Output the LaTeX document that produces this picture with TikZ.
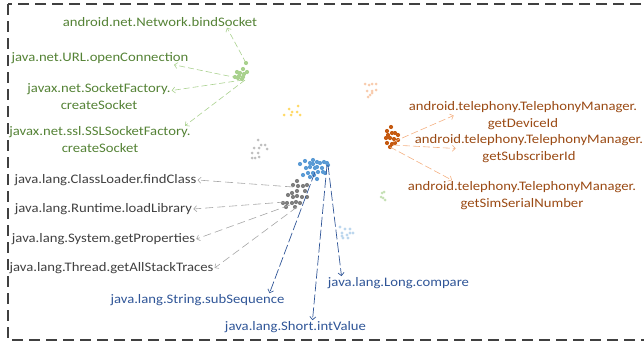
\documentclass[tikz,border=0pt]{standalone}
\usepackage{fontspec}
\setmainfont{Carlito}[FakeStretch=1.13]
\usetikzlibrary{arrows.meta}

\definecolor{grtext}{HTML}{548235}
\definecolor{grdot}{HTML}{A9D18E}
\definecolor{grline}{HTML}{A9D18E}
\definecolor{grlight}{HTML}{C5E0B4}
\definecolor{gytext}{HTML}{404040}
\definecolor{gydot}{HTML}{7F7F7F}
\definecolor{gyline}{HTML}{A6A6A6}
\definecolor{gylight}{HTML}{BFBFBF}
\definecolor{bltext}{HTML}{2F5597}
\definecolor{bldot}{HTML}{5B9BD5}
\definecolor{blline}{HTML}{2F5597}
\definecolor{bllight}{HTML}{BDD7EE}
\definecolor{ortext}{HTML}{9A4A14}
\definecolor{ordot}{HTML}{C55A11}
\definecolor{orline}{HTML}{F4B183}
\definecolor{orlight}{HTML}{F8CBAD}
\definecolor{yedot}{HTML}{FFD966}
\definecolor{frame}{HTML}{404040}

\tikzset{
  lbl/.style={inner sep=1pt, align=center, font=\fontsize{13}{17}\selectfont},
  conn/.style={-{Straight Barb[length=3pt,width=6pt]}, line width=0.6pt},
  grconn/.style={conn, draw=grline, dash pattern=on 6pt off 3pt},
  gyconn/.style={conn, draw=gyline, dash pattern=on 8pt off 4pt},
  blconn/.style={conn, draw=blline, line width=0.7pt, dash pattern=on 10pt off 3pt},
  orconn/.style={conn, draw=orline, dash pattern=on 7pt off 3pt},
}
% a cluster of dots: colour, radius, list of points
\newcommand{\dotcluster}[3]{%
  \foreach \p in {#3} {\fill[#1] \p circle (#2);}}

\begin{document}
\begin{tikzpicture}[x=1pt, y=-1pt]
\useasboundingbox (0,0) rectangle (644,343);

% dashed frame, open to the right
\begin{scope}
  \clip (0,0) rectangle (644,343);
  \draw[frame, line width=1.3pt, dash pattern=on 11pt off 6pt] (8,4) rectangle (660,340);
\end{scope}

% ---- point clusters ----
\dotcluster{grdot}{2.1pt}{(246,63),(243,69),(247,72),(237,72),(240,73),(235,77),(238,78),(243,77),(242,79),(244,74),(239,76)}
\dotcluster{yedot}{1.5pt}{(298,106),(289,109),(292,112),(297,112),(284,115),(291,115),(300,115)}
\dotcluster{gylight}{1.5pt}{(258,140),(261,145),(265,145),(254,148),(259,148),(267,149),(252,153),(258,153),(252,158),(255,158),(259,157)}
\dotcluster{orlight}{1.5pt}{(365,84),(369,85),(372,84),(376,84),(367,91),(372,91),(376,90),(370,95),(372,93),(368,97)}
\dotcluster{grlight}{1.5pt}{(382,193),(384,192),(381,197),(383,198),(385,200)}
\dotcluster{bllight}{1.6pt}{(340,227),(345,229),(350,229),(342,233),(347,235),(350,233),(353,233),(343,238),(348,238),(342,236)}
\dotcluster{gydot}{2.1pt}{(297,181),(293,185),(298,186),(303,186),(307,185),(288,195),(292,193),(293,197),(297,191),(297,196),(302,197),(305,191),(307,197),(283,203),(287,203),(292,203),(296,202),(300,203),(286,207),(295,207)}
\dotcluster{bldot}{2.1pt}{(300,164),(305,161),(310,163),(313,160),(313,164),(317,162),(320,163),(324,162),(327,163),(328,165),(306,168),(310,167),(315,168),(317,167),(322,168),(313,173),(318,172),(323,172),(308,173),(303,175),(310,177),(317,179),(325,173),(314,175)}
\dotcluster{ordot}{2.1pt}{(391,127),(387,131),(392,133),(395,133),(398,135),(388,135),(386,138),(390,138),(394,139),(398,140),(387,143),(392,144),(395,143),(390,147)}

% ---- connector origins inside the clusters ----
\coordinate (gA) at (246,63);
\coordinate (gB) at (238,78);
\coordinate (gC) at (243,80);
\coordinate (gD) at (245,80);
\coordinate (kA) at (293,187);
\coordinate (kB) at (285,202);
\coordinate (kC) at (290,205);
\coordinate (kD) at (297,207);
\coordinate (bA) at (315,172);
\coordinate (bB) at (327,165);
\coordinate (bC) at (328,165);
\coordinate (oA) at (393,142);
\coordinate (oB) at (393,145);
\coordinate (oC) at (390,147);

% ---- labels ----
\node[lbl, text=grtext] (bind) at (160,22) {android.net.Network.bindSocket};
\node[lbl, text=grtext] (url) at (100,58) {java.net.URL.openConnection};
\node[lbl, text=grtext] (sf) at (99,96.5) {javax.net.SocketFactory.\\createSocket};
\node[lbl, text=grtext] (ssl) at (100,140) {javax.net.ssl.SSLSocketFactory.\\createSocket};

\node[lbl, text=gytext] (cl) at (105.5,180) {java.lang.ClassLoader.findClass};
\node[lbl, text=gytext] (rt) at (103.5,209) {java.lang.Runtime.loadLibrary};
\node[lbl, text=gytext] (sys) at (103.5,239) {java.lang.System.getProperties};
\node[lbl, text=gytext] (thr) at (111.5,268) {java.lang.Thread.getAllStackTraces};

\node[lbl, text=bltext] (sub) at (197.5,300) {java.lang.String.subSequence};
\node[lbl, text=bltext] (short) at (295.5,327) {java.lang.Short.intValue};
\node[lbl, text=bltext] (long) at (398.5,283) {java.lang.Long.compare};

\node[lbl, text=ortext] (dev) at (523,115.5) {android.telephony.TelephonyManager.\\getDeviceId};
\node[lbl, text=ortext] (subid) at (529,148.5) {android.telephony.TelephonyManager.\\getSubscriberId};
\node[lbl, text=ortext] (sim) at (522,195.5) {android.telephony.TelephonyManager.\\getSimSerialNumber};

% ---- connectors ----
\draw[grconn] (gA) -- ([xshift=67pt]bind.south);
\draw[grconn] (gB) -- ([xshift=74pt]url.south);
\draw[grconn] (gC) -- ([yshift=6pt]sf.east);
\draw[grconn] (gD) -- ([xshift=85pt]ssl.north);

\draw[gyconn] (kA) -- (cl.east);
\draw[gyconn] (kB) -- (rt.east);
\draw[gyconn] (kC) -- (sys.east);
\draw[gyconn] (kD) -- (thr.east);

\draw[blconn] (bA) -- ([xshift=72pt]sub.north);
\draw[blconn] (bB) -- ([xshift=17pt]short.north);
\draw[blconn] (bC) -- ([xshift=-57pt]long.north);

\draw[orconn] (oA) -- ([xshift=46pt]dev.west);
\draw[orconn] (oB) -- ([xshift=42pt]subid.west);
\draw[orconn] (oC) -- ([xshift=-70pt]sim.north);
\end{tikzpicture}
\end{document}
